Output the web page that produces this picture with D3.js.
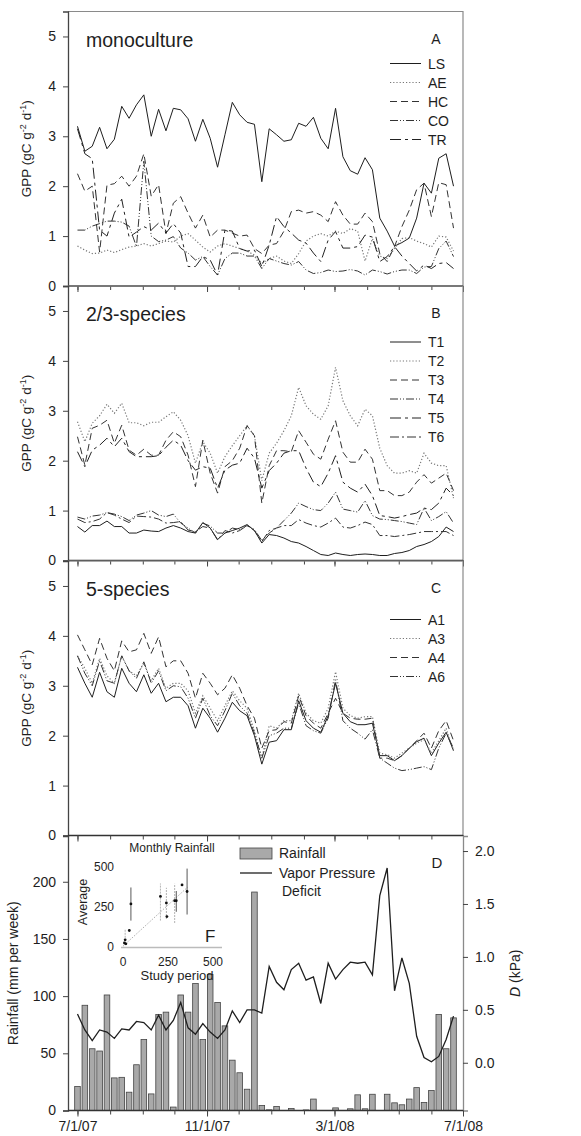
<!DOCTYPE html>
<html>
<head>
<meta charset="utf-8">
<script src="https://cdnjs.cloudflare.com/ajax/libs/d3/7.8.5/d3.min.js"></script>
<style>
  body { margin: 0; background: #fff; }
  svg { font-family: "Liberation Sans", Arial, sans-serif; }
</style>
</head>
<body>
<svg id="chart" width="581" height="1136"></svg>
<script>
// weekly sampling dates
var weeks = ["2007-07-01","2007-07-08","2007-07-15","2007-07-22","2007-07-29","2007-08-05","2007-08-12","2007-08-19","2007-08-26",
  "2007-09-02","2007-09-09","2007-09-16","2007-09-23","2007-09-30","2007-10-07","2007-10-14","2007-10-21","2007-10-28",
  "2007-11-04","2007-11-11","2007-11-18","2007-11-25","2007-12-02","2007-12-09","2007-12-16","2007-12-23","2007-12-30",
  "2008-01-06","2008-01-13","2008-01-20","2008-01-27","2008-02-03","2008-02-10","2008-02-17","2008-02-24",
  "2008-03-02","2008-03-09","2008-03-16","2008-03-23","2008-03-30","2008-04-06","2008-04-13","2008-04-20","2008-04-27",
  "2008-05-04","2008-05-11","2008-05-18","2008-05-25","2008-06-01","2008-06-08","2008-06-15","2008-06-22"];

// panel A: monoculture GPP
var monoLS = [3.2,2.7,2.8,3.18,2.75,2.94,3.6,3.36,3.63,3.83,3.0,3.54,3.11,3.56,3.53,3.35,2.9,3.34,2.96,2.38,
  3.03,3.68,3.43,3.28,3.24,2.09,3.15,3.03,2.9,2.93,3.26,3.2,3.38,2.96,2.75,3.56,2.59,2.31,2.24,2.57,
  2.33,1.36,1.1,0.8,0.87,0.96,1.36,2.06,1.86,2.56,2.65,2.0];
var monoAE = [0.8,0.72,0.65,0.66,0.72,0.67,0.73,0.78,0.8,0.85,0.8,0.85,0.9,0.88,1.0,1.05,0.92,0.78,0.68,0.8,
  0.85,0.8,0.75,0.7,0.62,0.45,0.55,0.6,0.5,0.45,0.65,0.9,1.0,1.05,1.0,1.1,1.05,1.15,1.1,0.5,
  0.95,0.6,0.55,0.75,0.95,0.97,0.9,0.85,0.78,1.0,0.98,0.7];
var monoHC = [2.25,1.9,2.0,0.68,2.02,2.05,2.2,2.0,2.2,2.65,1.8,2.03,1.05,1.66,1.79,1.46,1.16,1.42,0.98,1.12,
  1.12,1.06,1.0,1.02,0.75,0.65,0.82,0.85,1.1,1.49,1.52,1.46,1.49,1.42,1.29,1.69,1.42,1.24,1.24,1.46,
  1.29,0.65,0.49,0.79,1.19,1.52,1.93,2.06,1.39,2.07,2.03,1.16];
var monoCO = [1.12,1.12,1.2,1.25,1.3,1.3,1.28,1.2,0.79,2.5,1.0,0.89,0.92,0.99,0.76,0.66,0.52,0.59,0.39,0.22,
  0.55,0.66,0.66,0.6,0.6,0.35,0.55,0.5,0.45,0.42,0.49,0.32,0.25,0.27,0.32,0.29,0.3,0.33,0.3,0.22,
  0.32,0.29,0.24,0.29,0.32,0.32,0.25,0.38,0.39,0.75,0.9,0.59];
var monoTR = [3.15,2.65,2.55,1.12,1.0,1.46,1.74,0.98,1.08,1.19,1.12,1.26,1.06,1.25,1.06,0.39,0.39,0.59,0.52,0.22,
  1.12,1.1,0.75,0.7,0.72,0.39,0.82,1.39,1.19,1.06,0.92,0.86,0.66,0.49,0.92,1.09,0.76,0.76,0.79,1.02,
  0.98,0.49,0.59,0.79,0.6,0.45,0.3,0.42,0.35,0.45,0.47,0.35];

// panel B: 2/3-species GPP
var mixT1 = [0.68,0.57,0.7,0.7,0.79,0.68,0.68,0.55,0.55,0.61,0.59,0.58,0.65,0.7,0.65,0.58,0.55,0.76,0.65,0.42,
  0.55,0.6,0.65,0.72,0.6,0.35,0.52,0.5,0.45,0.38,0.35,0.28,0.2,0.12,0.1,0.15,0.12,0.1,0.12,0.13,
  0.12,0.1,0.1,0.14,0.16,0.2,0.28,0.32,0.38,0.48,0.67,0.58];
var mixT2 = [2.78,2.38,2.75,2.9,3.13,2.95,3.15,2.76,2.76,2.7,2.77,2.77,2.88,2.98,2.81,2.5,1.95,2.38,2.15,1.75,
  2.08,2.3,2.5,2.7,2.5,1.6,2.15,2.35,2.6,2.9,3.47,3.1,2.93,2.83,3.1,3.87,3.2,2.9,2.7,3.03,
  2.9,2.25,1.9,1.75,1.75,1.8,1.75,2.15,1.95,1.9,1.9,1.25];
var mixT3 = [2.48,1.91,2.65,2.71,2.81,2.35,2.71,2.21,2.11,2.23,2.11,2.11,2.41,2.58,2.48,2.11,1.48,2.41,1.75,1.35,
  1.88,2.0,2.25,2.7,2.5,1.15,1.9,2.2,2.2,2.18,2.6,2.37,2.13,2.03,2.43,2.8,2.17,1.97,1.97,2.23,
  2.03,1.4,1.4,1.3,1.3,1.37,1.57,1.72,1.55,1.65,1.75,1.4];
var mixT4 = [0.87,0.83,0.89,0.91,0.96,0.93,0.88,0.8,0.91,0.95,1.0,0.91,0.88,0.93,0.75,0.65,0.55,0.75,0.69,0.55,
  0.55,0.65,0.62,0.7,0.62,0.4,0.55,0.65,0.8,0.95,1.15,1.08,1.02,1.0,1.15,1.37,1.03,1.0,0.97,1.2,
  0.9,0.83,0.82,0.8,0.78,0.75,0.72,1.05,0.8,0.88,0.98,0.75];
var mixT5 = [2.18,1.88,2.21,2.31,2.45,2.28,2.45,2.18,2.08,2.08,2.08,2.1,2.27,2.41,2.31,2.0,1.81,1.88,1.85,1.45,
  1.81,1.91,1.95,2.25,2.05,1.45,1.8,1.95,2.15,2.2,2.2,1.85,1.57,1.48,1.75,2.1,1.57,1.45,1.37,1.53,
  1.3,0.9,0.88,0.85,0.88,0.92,0.95,1.05,1.02,1.15,1.45,1.3];
var mixT6 = [0.83,0.76,0.78,0.83,0.96,0.91,0.83,0.76,0.89,0.88,0.87,0.83,0.75,0.76,0.78,0.61,0.58,0.68,0.65,0.41,
  0.6,0.55,0.6,0.7,0.6,0.38,0.6,0.65,0.7,0.7,0.82,0.75,0.7,0.67,0.75,0.85,0.67,0.65,0.7,0.77,
  0.72,0.5,0.5,0.48,0.5,0.52,0.55,0.58,0.58,0.58,0.58,0.5];

// panel C: 5-species GPP
var allA1 = [3.37,3.05,2.77,3.27,2.88,2.77,3.35,3.05,2.88,3.22,2.85,3.05,2.68,2.77,2.77,2.6,2.15,2.55,2.35,2.07,
  2.35,2.67,2.5,2.4,2.0,1.43,1.87,1.9,2.12,2.12,2.7,2.3,2.15,2.07,2.4,3.05,2.45,2.28,2.22,2.22,
  2.25,1.6,1.6,1.5,1.6,1.75,1.88,1.95,1.6,1.85,2.07,1.7];
var allA3 = [3.6,3.35,3.05,3.55,3.2,3.05,3.6,3.3,3.2,3.45,3.1,3.35,2.95,3.05,3.05,2.9,2.45,2.8,2.55,2.3,
  2.6,2.9,2.7,2.55,2.1,1.55,2.2,2.15,2.3,2.3,2.85,2.45,2.3,2.25,2.55,3.28,2.55,2.4,2.35,2.38,
  2.38,1.65,1.62,1.55,1.65,1.75,1.85,1.92,1.65,1.9,2.15,1.7];
var allA4 = [4.02,3.72,3.42,3.95,3.55,3.3,3.9,3.68,3.72,4.05,3.65,3.98,3.38,3.5,3.5,3.25,2.75,3.25,3.05,2.82,
  2.95,3.22,2.95,2.6,2.35,1.75,2.1,2.12,2.28,2.25,2.8,2.4,2.25,2.15,2.45,2.75,2.45,2.35,2.33,2.33,
  2.35,1.55,1.55,1.5,1.6,1.75,1.9,2.05,1.75,2.1,2.3,1.9];
var allA6 = [3.6,3.25,3.0,3.5,3.1,3.05,3.6,3.3,3.15,3.48,3.05,3.3,2.9,3.0,2.98,2.75,2.35,2.75,2.4,2.2,
  2.5,2.85,2.6,2.45,2.05,1.55,2.0,2.05,2.15,2.15,2.65,2.2,2.1,2.05,2.35,3.12,2.3,2.15,2.05,1.93,
  2.12,1.55,1.45,1.35,1.3,1.32,1.35,1.38,1.32,1.75,2.05,1.75];

// panel D: weekly rainfall (mm) and vapor pressure deficit (kPa)
var rainfall = [21,92,54,52,101,28.5,29,16,40,62,14.5,84,86,3,101,86,111,62,119,94.5,
  74,44,33,18.6,191,4.4,0.6,3.5,0,1.7,0,0.5,10,0,0,2.3,0,1.5,13.7,1.5,
  14.2,0,14.2,6.7,5,10,20,7,17.5,84,54,81];
var vpd = [0.46,0.31,0.21,0.31,0.29,0.23,0.32,0.31,0.39,0.38,0.31,0.45,0.31,0.4,0.57,0.33,0.27,0.37,0.29,0.23,
  0.31,0.49,0.38,0.5,0.5,0.47,0.91,0.76,0.69,0.88,0.94,0.78,0.81,0.56,0.94,0.79,0.88,0.95,0.94,0.95,
  0.83,1.58,1.84,0.68,0.99,0.75,0.25,0.05,0.01,0.06,0.22,0.44];

// inset F: monthly rainfall, average vs study period
var insetStudy = [8,12,16,35,44,208,241,244,287,296,328,356];
var insetAvg = [25,45,20,103,269,316,275,190,289,289,388,347];
var insetLow = [25,20,20,103,165,165,175,190,150,220,388,203];
var insetHigh = [25,110,20,103,372,397,370,190,395,350,388,490];
var insetFit = [[0,5],[360,375]];

var gppTicks = [0,1,2,3,4,5];
var rainTicks = [0,50,100,150,200];
var vpdTicks = [0,0.5,1,1.5,2];
var insetTicks = [0,250,500];
var dateLabels = ["2007-07-01","2007-11-01","2008-03-01","2008-07-01"];

var parse = d3.timeParse("%Y-%m-%d");
var dates = weeks.map(parse);

var svg = d3.select("#chart");
var left = 68, right = 463;
var panelTops = [11.5, 286, 561, 836], panelH = 274.5;
var ink = "#1e1e1e";
var fontFam = "Liberation Sans, Arial, sans-serif";

var x = d3.scaleTime()
  .domain([new Date(2007, 5, 22), new Date(2008, 6, 1)])
  .range([left, right]);

var styles = {
  solid:  { dash: null, color: ink, w: 1 },
  dotted: { dash: "1.2,2", color: "#777", w: 1.2 },
  dash:   { dash: "7,4", color: "#333", w: 1 },
  dashdd: { dash: "8,2,1,2,1,2", color: "#333", w: 1 },
  longsh: { dash: "11,4,3,4", color: "#222", w: 1 },
  dashdot:{ dash: "9,3,2,3", color: "#333", w: 1 }
};

var panels = [
  { title: "monoculture", letter: "A", legendY: 63.5,
    series: [["LS", monoLS, "solid"], ["AE", monoAE, "dotted"], ["HC", monoHC, "dash"],
             ["CO", monoCO, "dashdd"], ["TR", monoTR, "longsh"]] },
  { title: "2/3-species", letter: "B", legendY: 342,
    series: [["T1", mixT1, "solid"], ["T2", mixT2, "dotted"], ["T3", mixT3, "dash"],
             ["T4", mixT4, "dashdd"], ["T5", mixT5, "longsh"], ["T6", mixT6, "dashdot"]] },
  { title: "5-species", letter: "C", legendY: 619.5,
    series: [["A1", allA1, "solid"], ["A3", allA3, "dotted"], ["A4", allA4, "dash"], ["A6", allA6, "dashdd"]] }
];

function styleAxis(a, domainColor) {
  a.select(".domain").attr("stroke", domainColor).attr("stroke-width", 1.3);
  a.selectAll("line").attr("stroke", "#444");
  a.selectAll("text").attr("font-size", 14).attr("fill", ink).attr("font-family", fontFam);
}

function monthTicks(g, bottom, labels) {
  var ax = d3.axisBottom(x)
    .ticks(d3.timeMonth.every(1))
    .tickSize(4)
    .tickFormat("");
  g.append("g").attr("transform", "translate(0," + bottom + ")").call(ax)
    .call(function(s) { s.select(".domain").remove(); s.selectAll("line").attr("stroke", "#444"); });
  var big = d3.axisBottom(x)
    .tickValues(dateLabels.map(parse))
    .tickSize(6)
    .tickPadding(5)
    .tickFormat(labels ? d3.timeFormat("%-m/%-d/%y") : "");
  var b = g.append("g").attr("transform", "translate(0," + bottom + ")").call(big);
  b.select(".domain").remove();
  styleAxis(b, "#444");
}

function gppLabel(g, cy) {
  var t = g.append("text")
    .attr("transform", "translate(31," + cy + ") rotate(-90)")
    .attr("text-anchor", "middle")
    .attr("font-size", 13.5)
    .attr("fill", ink);
  t.append("tspan").text("GPP (gC g");
  t.append("tspan").attr("font-size", 9).attr("dy", -5).text("-2");
  t.append("tspan").attr("dy", 5).text(" d");
  t.append("tspan").attr("font-size", 9).attr("dy", -5).text("-1");
  t.append("tspan").attr("dy", 5).text(")");
}

panels.forEach(function(p, k) {
  var top = panelTops[k], bottom = top + panelH;
  var g = svg.append("g").attr("class", "panel");
  var y = d3.scaleLinear().domain([0, 5.5]).range([bottom, top]);

  // right and top frame
  g.append("path")
    .attr("d", "M" + left + "," + top + "H" + right + "V" + bottom)
    .attr("fill", "none").attr("stroke", "#8a8a8a").attr("stroke-width", 1.2);

  var ya = g.append("g").attr("transform", "translate(" + left + ",0)")
    .call(d3.axisLeft(y).tickValues(gppTicks).tickSize(5).tickPadding(7).tickFormat(d3.format("d")));
  styleAxis(ya, "#444");

  g.append("line").attr("x1", left).attr("x2", right).attr("y1", bottom).attr("y2", bottom)
    .attr("stroke", "#333").attr("stroke-width", 1.3);
  monthTicks(g, bottom, false);
  gppLabel(g, (top + bottom) / 2);

  g.append("text").attr("x", 86).attr("y", top + 35).attr("font-size", 19.5).attr("fill", ink).text(p.title);
  g.append("text").attr("x", 436).attr("y", top + 32).attr("font-size", 14).attr("text-anchor", "middle")
    .attr("fill", ink).text(p.letter);

  var line = d3.line()
    .x(function(d, i) { return x(dates[i]); })
    .y(function(d) { return y(d); });

  p.series.forEach(function(s, j) {
    var st = styles[s[2]];
    g.append("path")
      .datum(s[1])
      .attr("d", line)
      .attr("fill", "none")
      .attr("stroke", st.color)
      .attr("stroke-width", st.w)
      .attr("stroke-dasharray", st.dash);
    var ly = p.legendY + j * 19;
    g.append("line").attr("x1", 390).attr("x2", 421).attr("y1", ly).attr("y2", ly)
      .attr("stroke", st.color).attr("stroke-width", st.w).attr("stroke-dasharray", st.dash);
    g.append("text").attr("x", 428).attr("y", ly + 5).attr("font-size", 14).attr("fill", ink).text(s[0]);
  });
});

// panel D
(function() {
  var top = panelTops[3], bottom = top + panelH;
  var g = svg.append("g").attr("class", "panel-d");
  var yr = d3.scaleLinear().domain([0, 240]).range([bottom, top]);
  var yv = d3.scaleLinear().domain([-0.451, 2.142]).range([bottom, top]);

  g.selectAll("rect.bar")
    .data(rainfall)
    .enter().append("rect")
    .attr("class", "bar")
    .attr("x", function(d, i) { return x(dates[i]) - 2.8; })
    .attr("width", 5.6)
    .attr("y", function(d) { return yr(d); })
    .attr("height", function(d) { return bottom - yr(d); })
    .attr("fill", "#a9a9a9")
    .attr("stroke", "#444")
    .attr("stroke-width", 0.8);

  g.append("path")
    .datum(vpd)
    .attr("d", d3.line().x(function(d, i) { return x(dates[i]); }).y(function(d) { return yv(d); }))
    .attr("fill", "none").attr("stroke", ink).attr("stroke-width", 1.3);

  var ya = g.append("g").attr("transform", "translate(" + left + ",0)")
    .call(d3.axisLeft(yr).tickValues(rainTicks).tickSize(5).tickPadding(7).tickFormat(d3.format("d")));
  styleAxis(ya, "#444");

  var yb = g.append("g").attr("transform", "translate(" + right + ",0)")
    .call(d3.axisRight(yv).tickValues(vpdTicks).tickSize(5).tickPadding(7).tickFormat(d3.format(".1f")));
  styleAxis(yb, "#8a8a8a");

  g.append("line").attr("x1", left).attr("x2", right).attr("y1", bottom).attr("y2", bottom)
    .attr("stroke", "#333").attr("stroke-width", 1.3);
  monthTicks(g, bottom, true);

  var mid = (top + bottom) / 2;
  g.append("text").attr("transform", "translate(18," + mid + ") rotate(-90)")
    .attr("text-anchor", "middle").attr("font-size", 14).attr("fill", ink)
    .text("Rainfall (mm per week)");
  var rt = g.append("text").attr("transform", "translate(520," + mid + ") rotate(-90)")
    .attr("text-anchor", "middle").attr("font-size", 14).attr("fill", ink);
  rt.append("tspan").attr("font-style", "italic").text("D");
  rt.append("tspan").text(" (kPa)");

  g.append("text").attr("x", 437).attr("y", top + 32).attr("font-size", 15).attr("text-anchor", "middle")
    .attr("fill", ink).text("D");

  // legend
  g.append("rect").attr("x", 240).attr("y", 848).attr("width", 32).attr("height", 11)
    .attr("fill", "#a9a9a9").attr("stroke", "#444").attr("stroke-width", 0.8);
  g.append("text").attr("x", 279).attr("y", 858).attr("font-size", 14).attr("fill", ink).text("Rainfall");
  g.append("line").attr("x1", 240).attr("x2", 272).attr("y1", 873).attr("y2", 873)
    .attr("stroke", ink).attr("stroke-width", 1.3);
  g.append("text").attr("x", 279).attr("y", 878).attr("font-size", 14).attr("fill", ink).text("Vapor Pressure");
  g.append("text").attr("x", 282).attr("y", 896).attr("font-size", 14).attr("fill", ink).text("Deficit");

  // inset F
  var ix = d3.scaleLinear().domain([0, 500]).range([123, 213]);
  var iy = d3.scaleLinear().domain([0, 500]).range([947, 867]);
  var gi = g.append("g").attr("class", "inset");
  gi.append("line").attr("x1", 121).attr("x2", 222).attr("y1", 947.5).attr("y2", 947.5)
    .attr("stroke", "#bbb").attr("stroke-width", 1.5);
  gi.append("text").attr("x", 172).attr("y", 852).attr("text-anchor", "middle")
    .attr("font-size", 12).attr("fill", ink).text("Monthly Rainfall");
  gi.selectAll("text.ixl").data(insetTicks).enter().append("text").attr("class", "ixl")
    .attr("x", function(d) { return ix(d); }).attr("y", 966).attr("text-anchor", "middle")
    .attr("font-size", 12).attr("fill", ink).text(function(d) { return d; });
  gi.selectAll("text.iyl").data(insetTicks).enter().append("text").attr("class", "iyl")
    .attr("x", 114).attr("y", function(d) { return iy(d) + 4; }).attr("text-anchor", "end")
    .attr("font-size", 12).attr("fill", ink).text(function(d) { return d; });
  gi.append("text").attr("x", 177).attr("y", 980).attr("text-anchor", "middle")
    .attr("font-size", 13).attr("fill", ink).text("Study period");
  gi.append("text").attr("transform", "translate(87,902) rotate(-90)").attr("text-anchor", "middle")
    .attr("font-size", 12.5).attr("fill", ink).text("Average");
  gi.append("text").attr("x", 205).attr("y", 942).attr("font-size", 17).attr("fill", ink).text("F");
  gi.append("line")
    .attr("x1", ix(insetFit[0][0])).attr("y1", iy(insetFit[0][1]))
    .attr("x2", ix(insetFit[1][0])).attr("y2", iy(insetFit[1][1]))
    .attr("stroke", "#999").attr("stroke-width", 0.8).attr("stroke-dasharray", "1.5,1.5");
  insetStudy.forEach(function(s, i) {
    if (insetHigh[i] > insetLow[i]) {
      var dark = (i === 4 || i === 11 || i === 9);
      gi.append("line").attr("x1", ix(s)).attr("x2", ix(s))
        .attr("y1", iy(insetLow[i])).attr("y2", iy(insetHigh[i]))
        .attr("stroke", dark ? "#444" : "#aaa").attr("stroke-width", 0.9)
        .attr("stroke-dasharray", dark ? null : "2,1");
    }
  });
  gi.selectAll("circle").data(insetAvg).enter().append("circle")
    .attr("cx", function(d, i) { return ix(insetStudy[i]); })
    .attr("cy", function(d) { return iy(d); })
    .attr("r", 1.4).attr("fill", "#111");
})();
</script>
</body>
</html>
